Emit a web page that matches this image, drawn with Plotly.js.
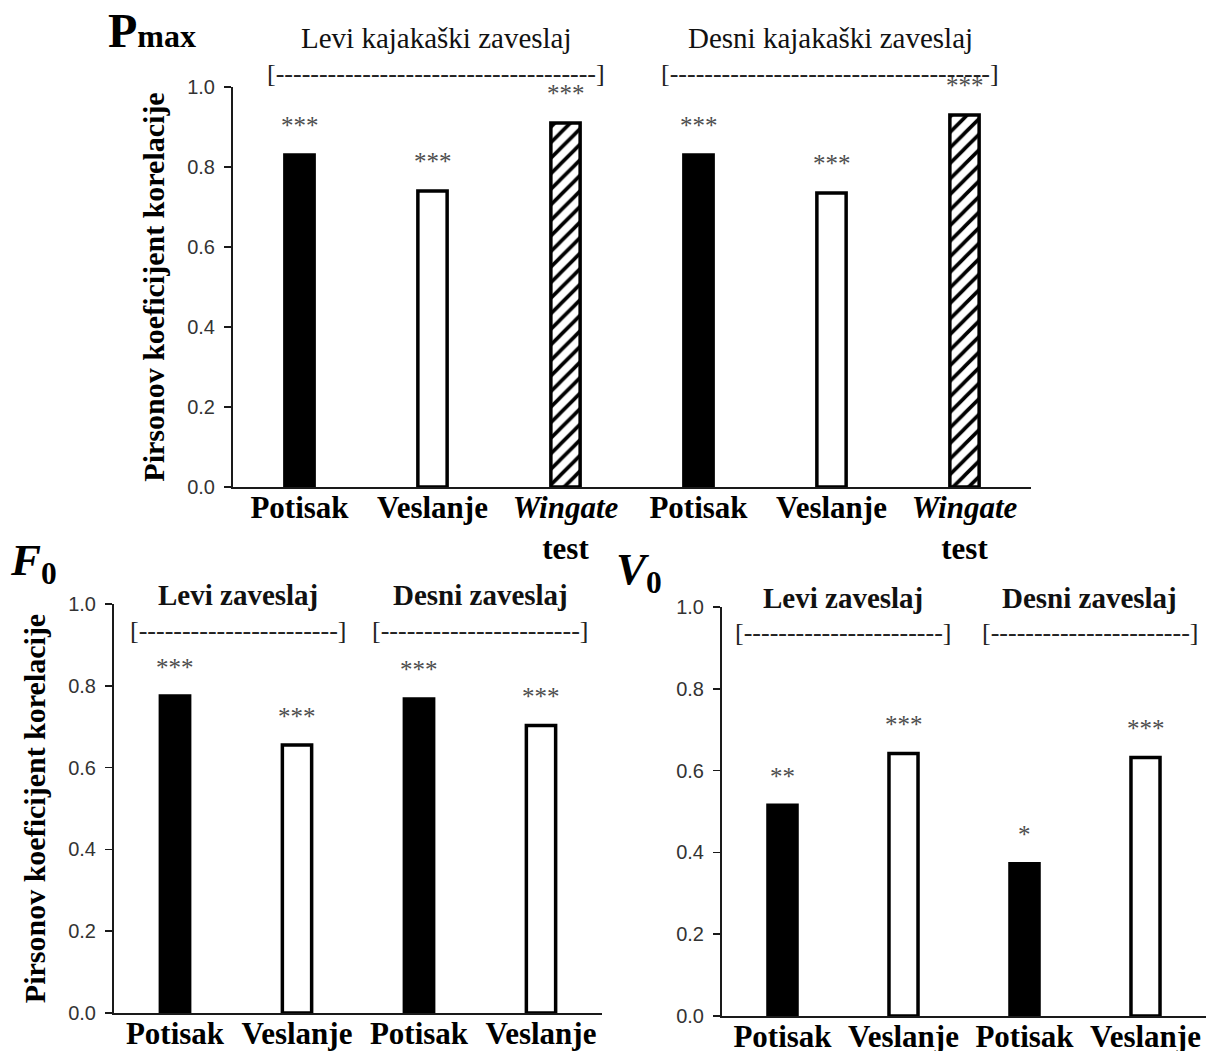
<!DOCTYPE html>
<html>
<head>
<meta charset="utf-8">
<script src="https://cdn.plot.ly/plotly-3.0.1.min.js"></script>
<style>html,body{margin:0;padding:0;background:#fff;}</style>
</head>
<body>
<div id="chart" style="width:1206px;height:1051px;"></div>
<script>
// ---------- DATA ----------
// Pmax panel
const pmaxKeys   = ['L-Potisak','L-Veslanje','L-Wingate','D-Potisak','D-Veslanje','D-Wingate'];
const pmaxLabels = ['Potisak','Veslanje','<i>Wingate</i><br>test','Potisak','Veslanje','<i>Wingate</i><br>test'];
const pmaxType   = ['Potisak','Veslanje','Wingate','Potisak','Veslanje','Wingate'];
const pmaxValues = [0.83, 0.74, 0.91, 0.83, 0.735, 0.93];
const pmaxSig    = ['***','***','***','***','***','***'];
const pmaxGroups = ['Levi kajakaški zaveslaj','Desni kajakaški zaveslaj'];

// F0 panel
const f0Keys   = ['L-Potisak','L-Veslanje','D-Potisak','D-Veslanje'];
const f0Labels = ['Potisak','Veslanje','Potisak','Veslanje'];
const f0Type   = ['Potisak','Veslanje','Potisak','Veslanje'];
const f0Values = [0.775, 0.655, 0.768, 0.703];
const f0Sig    = ['***','***','***','***'];

// V0 panel
const v0Keys   = ['L-Potisak','L-Veslanje','D-Potisak','D-Veslanje'];
const v0Labels = ['Potisak','Veslanje','Potisak','Veslanje'];
const v0Type   = ['Potisak','Veslanje','Potisak','Veslanje'];
const v0Values = [0.515, 0.642, 0.372, 0.632];
const v0Sig    = ['**','***','*','***'];

const smallGroups = ['Levi zaveslaj','Desni zaveslaj'];
const yTitle = 'Pirsonov koeficijent korelacije';

// ---------- STYLE ----------
const W = 1206, H = 1051;
const px = v => v / W;
const py = v => 1 - v / H;
const SERIF = 'Liberation Serif, Times New Roman, serif';
const SANS = 'Liberation Sans, Arial, sans-serif';

const typeStyle = {
  Potisak:  {color: 'black', pattern: null},
  Veslanje: {color: 'white', pattern: null},
  Wingate:  {color: 'white', pattern: {shape: '/', fgcolor: 'black', bgcolor: 'white', size: 11, solidity: 0.33, fillmode: 'replace'}}
};

const data = [];
function addBars(keys, vals, types, xa, ya, width) {
  Object.keys(typeStyle).forEach(t => {
    if (!types.includes(t)) return;
    const st = typeStyle[t];
    const marker = {color: st.color, line: {color: 'black', width: 3.5}};
    if (st.pattern) marker.pattern = st.pattern;
    data.push({
      type: 'bar', name: t, x: keys,
      y: vals.map((v, i) => types[i] === t ? v : null),
      xaxis: xa, yaxis: ya, width: width,
      hoverinfo: 'none', textposition: 'none', marker: marker
    });
  });
}
addBars(pmaxKeys, pmaxValues, pmaxType, 'x', 'y', 0.22);
addBars(f0Keys, f0Values, f0Type, 'x2', 'y2', 0.24);
addBars(v0Keys, v0Values, v0Type, 'x3', 'y3', 0.24);

function xAxis(domain, anchor, keys, labels) {
  return {
    domain: domain, anchor: anchor, type: 'category',
    categoryorder: 'array', categoryarray: keys,
    range: [-0.5, keys.length - 0.5],
    tickvals: keys, ticktext: labels, ticks: '', ticklabelstandoff: -8,
    showline: true, linecolor: '#1a1a1a', linewidth: 2,
    showgrid: false, zeroline: false, fixedrange: true,
    tickfont: {family: SERIF, size: 31, color: 'black', weight: 'bold'}
  };
}
function yAxis(domain, anchor, withTitle) {
  const a = {
    domain: domain, anchor: anchor, range: [0, 1], dtick: 0.2, tick0: 0,
    tickformat: '.1f', ticks: 'outside', ticklen: 7, tickwidth: 1.5, tickcolor: '#1a1a1a',
    ticklabelstandoff: 5,
    showline: true, linecolor: '#1a1a1a', linewidth: 2,
    showgrid: false, zeroline: false, fixedrange: true,
    tickfont: {family: SANS, size: 20, color: '#333'}
  };
  if (withTitle) {
    a.title = {text: yTitle, font: {family: SERIF, size: 30, color: 'black', weight: 'bold'}, standoff: 14};
  }
  return a;
}

const annotations = [];
function stars(keys, vals, sig, xa, ya) {
  keys.forEach((k, i) => annotations.push({
    xref: xa, yref: ya, x: k, y: vals[i], text: sig[i], showarrow: false,
    yanchor: 'middle', yshift: 29,
    font: {family: SERIF, size: 25, color: '#4d4d4d'}
  }));
}
stars(pmaxKeys, pmaxValues, pmaxSig, 'x', 'y');
stars(f0Keys, f0Values, f0Sig, 'x2', 'y2');
stars(v0Keys, v0Values, v0Sig, 'x3', 'y3');

function groupLabels(groups, xa, centers, labelY, bracketY, bold, size, dashes) {
  groups.forEach((g, i) => {
    annotations.push({
      xref: xa, yref: 'paper', x: centers[i], y: py(labelY), text: g, showarrow: false,
      xanchor: 'center', yanchor: 'middle',
      font: {family: SERIF, size: size, color: '#111', weight: bold ? 'bold' : 'normal'}
    });
    annotations.push({
      xref: xa, yref: 'paper', x: centers[i], y: py(bracketY), text: '[' + '-'.repeat(dashes) + ']', showarrow: false,
      xanchor: 'center', yanchor: 'middle',
      font: {family: SERIF, size: 26, color: '#222'}
    });
  });
}
groupLabels(pmaxGroups, 'x', [1.03, 3.99], 38, 73, false, 29, 37);
groupLabels(smallGroups, 'x2', [0.52, 2.5], 595, 630, true, 29, 23);
groupLabels(smallGroups, 'x3', [0.5, 2.54], 598, 632, true, 29, 23);

// panel titles
annotations.push({xref: 'paper', yref: 'paper', x: px(106), y: py(31), xanchor: 'left', yanchor: 'middle', showarrow: false,
  text: 'P<span style="font-size:32px">max</span>', font: {family: SERIF, size: 48, color: 'black', weight: 'bold'}});
annotations.push({xref: 'paper', yref: 'paper', x: px(8), y: py(563), xanchor: 'left', yanchor: 'middle', showarrow: false,
  text: '<i>F</i><sub>0</sub>', font: {family: SERIF, size: 45, color: 'black', weight: 'bold'}});
annotations.push({xref: 'paper', yref: 'paper', x: px(614), y: py(572), xanchor: 'left', yanchor: 'middle', showarrow: false,
  text: '<i>V</i><sub>0</sub>', font: {family: SERIF, size: 45, color: 'black', weight: 'bold'}});

const layout = {
  width: W, height: H, margin: {l: 0, r: 0, t: 0, b: 0},
  paper_bgcolor: 'white', plot_bgcolor: 'white', showlegend: false,
  barmode: 'overlay',
  xaxis:  xAxis([px(233), px(1031)], 'y', pmaxKeys, pmaxLabels),
  yaxis:  yAxis([py(487), py(87)], 'x', true),
  xaxis2: xAxis([px(114), px(602)], 'y2', f0Keys, f0Labels),
  yaxis2: yAxis([py(1013), py(604)], 'x2', true),
  xaxis3: xAxis([px(722), 1], 'y3', v0Keys, v0Labels),
  yaxis3: yAxis([py(1016), py(607)], 'x3', false),
  annotations: annotations
};

Plotly.newPlot('chart', data, layout, {staticPlot: true, displayModeBar: false});
</script>
</body>
</html>
